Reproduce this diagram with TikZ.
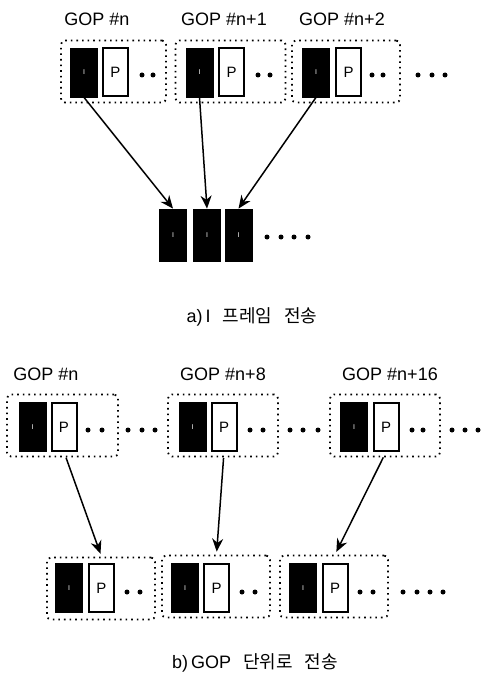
\documentclass[tikz,border=0pt]{standalone}
\usepackage{fontspec}
\setmainfont{Liberation Sans}
\newfontfamily\krfont{Noto Sans CJK KR}
\usetikzlibrary{arrows.meta}
\begin{document}
\begin{tikzpicture}[x=1pt,y=-1pt,
  gopbox/.style={draw, line width=1.8pt, dash pattern=on 1.6pt off 4.0pt, rounded corners=4pt, inner sep=0pt, minimum height=62pt},
  iframe/.style={draw, fill=black, line width=0.8pt, minimum width=27pt, minimum height=49pt, inner sep=0pt, text=white, font=\fontsize{7}{8}\selectfont},
  pframe/.style={draw, fill=white, line width=2pt, minimum width=25pt, minimum height=48pt, inner sep=0pt, font=\fontsize{15}{16}\selectfont},
  dotmark/.style={circle, fill=black, inner sep=0pt, minimum size=5pt},
  lbl/.style={font=\fontsize{18}{20}\selectfont, inner sep=0pt},
  captext/.style={font=\fontsize{18}{20}\selectfont, inner sep=0pt},
  arr/.style={line width=1.5pt, -{Stealth[length=13pt,width=11pt]}}
]
\useasboundingbox (0,0) rectangle (481,676);

% ---------- a) ----------
\node[lbl] (la1) at (97,19) {GOP \#n};
\node[lbl] (la2) at (224,19) {GOP \#n+1};
\node[lbl] (la3) at (342,19) {GOP \#n+2};

\node[gopbox, minimum width=105pt] (ga1) at (113.5,71.5) {};
\node[gopbox, minimum width=110pt] (ga2) at (230.5,71.5) {};
\node[gopbox, minimum width=108pt] (ga3) at (346,71.5) {};

\node[iframe] (ia1) at (84,72.5) {I};
\node[pframe] (pa1) at (115.5,72.5) {P};
\node[dotmark] (da1) at (142,75) {};
\node[dotmark] (da2) at (153,75) {};

\node[iframe] (ia2) at (199.5,72.5) {I};
\node[pframe] (pa2) at (231.5,72.5) {P};
\node[dotmark] (da3) at (258,75) {};
\node[dotmark] (da4) at (270,75) {};

\node[iframe] (ia3) at (316,72.5) {I};
\node[pframe] (pa3) at (348.5,72.5) {P};
\node[dotmark] (da5) at (372,75) {};
\node[dotmark] (da6) at (383,75) {};

\node[dotmark] (da7) at (418,75) {};
\node[dotmark] (da8) at (432,75) {};
\node[dotmark] (da9) at (445,75) {};

\node[iframe, minimum height=52pt] (ba1) at (173,235) {I};
\node[iframe, minimum height=52pt] (ba2) at (207,235) {I};
\node[iframe, minimum height=52pt] (ba3) at (238.5,235) {I};
\node[dotmark] (db1) at (267,237) {};
\node[dotmark] (db2) at (281,237) {};
\node[dotmark] (db3) at (294,237) {};
\node[dotmark] (db4) at (308,237) {};

\draw[arr] (ia1.south) -- (ba1.north);
\draw[arr] (ia2.south) -- (ba2.north);
\draw[arr] (ia3.south) -- (ba3.north);

\node[captext] (capa) at (252,317) {a)\,I\hspace{12pt}{\krfont 프레임\hspace{12pt}전송}};

% ---------- b) ----------
\node[lbl] (lb1) at (46,374) {GOP \#n};
\node[lbl] (lb2) at (223,374) {GOP \#n+8};
\node[lbl] (lb3) at (390,374) {GOP \#n+16};

\node[gopbox, minimum width=111pt] (gb1) at (62.5,425.5) {};
\node[gopbox, minimum width=110pt] (gb2) at (223,425.5) {};
\node[gopbox, minimum width=110pt] (gb3) at (385,425.5) {};

\node[iframe] (ib1) at (32.5,427) {I};
\node[pframe] (pb1) at (64,427) {P};
\node[dotmark] (e1) at (88,430) {};
\node[dotmark] (e2) at (102,430) {};
\node[dotmark] (e3) at (128,430) {};
\node[dotmark] (e4) at (142,430) {};
\node[dotmark] (e5) at (155,430) {};

\node[iframe] (ib2) at (192.5,427) {I};
\node[pframe] (pb2) at (224,427) {P};
\node[dotmark] (e6) at (250,430) {};
\node[dotmark] (e7) at (263,430) {};
\node[dotmark] (e8) at (290,430) {};
\node[dotmark] (e9) at (303,430) {};
\node[dotmark] (e10) at (318,430) {};

\node[iframe] (ib3) at (354,427) {I};
\node[pframe] (pb3) at (386,427) {P};
\node[dotmark] (e11) at (412,430) {};
\node[dotmark] (e12) at (423,430) {};
\node[dotmark] (e13) at (452,430) {};
\node[dotmark] (e14) at (465,430) {};
\node[dotmark] (e15) at (478,430) {};

\node[gopbox, minimum width=108pt] (hb1) at (101,588.5) {};
\node[gopbox, minimum width=108pt] (hb2) at (216,586.5) {};
\node[gopbox, minimum width=108pt] (hb3) at (334,586.5) {};

\node[iframe] (jb1) at (69,588) {I};
\node[pframe] (qb1) at (101.5,588) {P};
\node[dotmark] (f1) at (127,592) {};
\node[dotmark] (f2) at (140,592) {};

\node[iframe] (jb2) at (185,588) {I};
\node[pframe] (qb2) at (216.5,588) {P};
\node[dotmark] (f3) at (242,592) {};
\node[dotmark] (f4) at (255,592) {};

\node[iframe] (jb3) at (303,588) {I};
\node[pframe] (qb3) at (335,588) {P};
\node[dotmark] (f5) at (360,592) {};
\node[dotmark] (f6) at (373,592) {};
\node[dotmark] (f7) at (403,592) {};
\node[dotmark] (f8) at (417,592) {};
\node[dotmark] (f9) at (430,592) {};
\node[dotmark] (f10) at (443,592) {};

\draw[arr, shorten <=6pt, shorten >=3pt] (pb1.south) -- (qb1.north |- hb1.north);
\draw[arr, shorten <=6pt, shorten >=3pt] (pb2.south) -- (qb2.north |- hb2.north);
\draw[arr, shorten <=6pt, shorten >=3pt] (pb3.south) -- (qb3.north |- hb3.north);

\node[captext] (capb) at (255,663) {b)\,GOP\hspace{12pt}{\krfont 단위로\hspace{12pt}전송}};
\end{tikzpicture}
\end{document}
